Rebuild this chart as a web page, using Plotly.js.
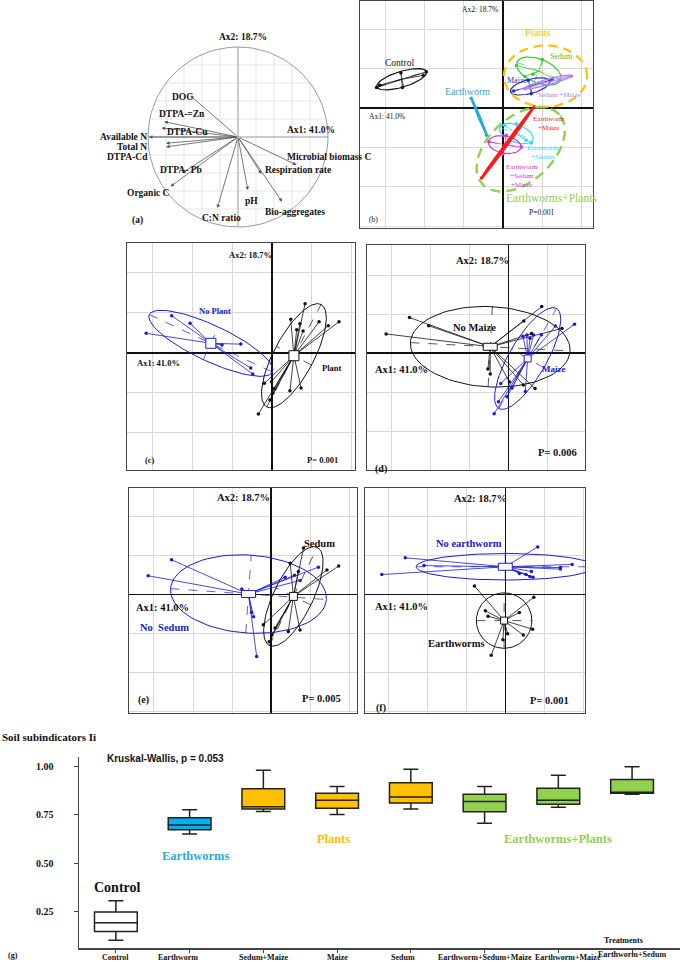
<!DOCTYPE html>
<html>
<head>
<meta charset="utf-8">
<script src="https://cdn.plot.ly/plotly-3.0.1.min.js"></script>
<style>
  html, body { margin: 0; padding: 0; background: #fff; }
  #chart { width: 685px; height: 962px; }
</style>
</head>
<body>
<div id="chart"></div>
<script>
// (a) correlation circle: variable loadings on Ax1 / Ax2
var varNames = ['DOC', 'DTPA-=Zn', 'DTPA-Cu', 'Available N', 'Total N', 'DTPA-Cd', 'DTPA- Pb',
  'Organic C', 'C:N ratio', 'pH', 'Bio-aggregates', 'Respiration rate', 'Microbial biomass C'];
var varAx1 = [-0.53, -0.82, -0.85, -0.99, -0.80, -0.80, -0.62, -0.75, -0.23, 0.11, 0.49, 0.26, 0.65];
var varAx2 = [0.46, 0.17, 0.10, 0.00, -0.07, -0.11, -0.40, -0.55, -0.79, -0.59, -0.72, -0.41, -0.31];

// (b) treatment groups: sample scores + ellipse [cx, cy, a, b, angle]
var bControlX = [-3.22, -1.95, -2.60, -2.56, -3.14, -2.03];
var bControlY = [0.52, 0.92, 0.89, 0.52, 0.58, 0.83];
var bControlEll = [-2.58, 0.73, 0.66, 0.20, 17];
var bSedumX = [0.34, 1.00, 1.27, 0.76, 0.55];
var bSedumY = [1.08, 1.23, 0.75, 0.86, 0.80];
var bSedumEll = [0.91, 0.94, 0.60, 0.30, -22];
var bMaizeX = [0.27, 1.23, 0.64, 0.72];
var bMaizeY = [0.43, 0.72, 0.70, 0.36];
var bMaizeEll = [0.69, 0.55, 0.52, 0.18, 15];
var bSedMaiX = [0.55, 1.74, 1.44];
var bSedMaiY = [0.49, 0.81, 0.72];
var bSedMaiEll = [1.14, 0.66, 0.62, 0.07, 15];
var bEwX = [-0.81, -0.42];
var bEwY = [0.25, -0.69];
var bEwEll = [-0.61, -0.22, 0.51, 0.02, -67.5];
var bEwMaiX = [-0.55, 0.79, 0.30];
var bEwMaiY = [-1.78, 0.03, -0.62];
var bEwMaiEll = [0.12, -0.88, 1.13, 0.03, 53.5];
var bEwSedX = [0.04, 0.72, 0.34, 0.59];
var bEwSedY = [-0.44, -0.89, -0.40, -0.82];
var bEwSedEll = [0.34, -0.65, 0.45, 0.22, -20];
var bEwSedMaiX = [-0.36, 0.47, 0.08, 0.00];
var bEwSedMaiY = [-0.86, -0.99, -0.69, -1.17];
var bEwSedMaiEll = [0.04, -0.93, 0.42, 0.22, -10];
var bPlantsEll = [1.08, 0.81, 1.06, 0.78, 0];
var bEwPlantsEll = [0.45, -1.05, 1.32, 0.82, 42];

// (c) plant / no plant
var cNoPlantX = [-3.15, -2.51, -2.05, -0.78, -0.53, -0.48, -1.25];
var cNoPlantY = [0.49, 0.93, 0.74, 0.22, -0.38, -0.53, 0.20];
var cNoPlantEll = [-1.53, 0.24, 1.70, 0.45, -25];
var cPlantX = [0.83, 0.47, 0.70, 0.62, 0.78, 1.18, 1.41, 1.68, -0.19, -0.01, 0.02, -0.05, -0.34, 0.45, 0.73, 0.05];
var cPlantY = [1.23, 0.84, 0.73, 0.58, 0.55, 0.78, 0.68, 0.78, -0.76, -0.72, -1.01, -1.18, -1.53, -0.95, -0.88, -0.90];
var cPlantEll = [0.55, -0.07, 1.45, 0.50, 62];

// (d) maize / no maize
var dNoMaizeX = [-3.13, -2.53, -2.04, 0.86, 0.40, 1.38, -0.52, -0.46, 0.03, 0.39, 0.69, 0.60];
var dNoMaizeY = [0.49, 0.91, 0.70, 1.19, 0.82, 0.63, -0.41, -0.54, -0.74, -0.82, -0.91, 0.50];
var dNoMaizeEll = [-0.46, 0.16, 2.05, 1.03, -3];
var dMaizeX = [1.70, 1.21, 0.65, 0.56, 0.48, 0.38, 0.85, -0.36, -0.19, -0.03, 0.44, 0.10, -0.25];
var dMaizeY = [0.74, 0.69, 0.46, 0.38, 0.46, 0.43, 0.47, -1.56, -0.78, -1.12, -0.99, -0.90, -1.25];
var dMaizeEll = [0.50, -0.14, 1.48, 0.48, 60];

// (e) sedum / no sedum
var eNoSedumX = [-3.15, -2.55, -0.75, -0.45, -0.37, 0.36, 0.74, 1.21, 0.60, -0.50];
var eNoSedumY = [0.49, 0.90, 0.15, -0.56, -1.58, 0.45, 0.37, 0.71, 0.50, -0.45];
var eNoSedumEll = [-0.58, 0.02, 2.00, 1.00, -4];
var eSedumX = [0.83, 0.49, 1.43, 1.73, 0.70, -0.20, 0.02, -0.05, 0.44, 0.74, 0.10];
var eSedumY = [1.20, 0.81, 0.64, 0.74, 0.60, -0.77, -1.03, -1.20, -0.94, -0.90, -0.85];
var eSedumEll = [0.57, -0.04, 1.40, 0.50, 64];

// (f) earthworm / no earthworm
var fNoEwX = [-3.17, -2.57, -2.09, 0.82, 1.40, 1.70, 0.66, 0.62, 0.52, 0.35, 0.70, 1.40];
var fNoEwY = [0.52, 0.95, 0.75, 1.23, 0.66, 0.78, 0.60, 0.47, 0.52, 0.55, 0.45, 0.70];
var fNoEwEll = [-0.01, 0.72, 2.28, 0.34, 0];
var fEwX = [-0.80, 0.72, -0.52, -0.37, 0.69, 0.45, -0.07, 0.35, -0.45, 0.05];
var fEwY = [0.23, -0.06, -0.41, -1.55, -0.88, -1.03, -1.15, -0.45, -0.55, -1.00];
var fEwEll = [-0.04, -0.66, 0.71, 0.71, 0];

// (g) soil subindicator Ii by treatment
var treatments = ['Control', 'Earthworm', 'Sedum+Maize', 'Maize', 'Sedum',
  'Earthworm+Sedum+Maize', 'Earthworm+Maize', 'Earthworm+Sedum'];
var iiLow = [0.100, 0.651, 0.768, 0.752, 0.780, 0.707, 0.790, 0.857];
var iiQ1 = [0.145, 0.673, 0.780, 0.785, 0.812, 0.766, 0.805, 0.862];
var iiMedian = [0.191, 0.697, 0.792, 0.826, 0.843, 0.819, 0.826, 0.866];
var iiQ3 = [0.246, 0.735, 0.886, 0.862, 0.916, 0.857, 0.888, 0.933];
var iiHigh = [0.305, 0.776, 0.981, 0.897, 0.986, 0.897, 0.955, 1.000];
var boxColors = ['#ffffff', '#00b0f0', '#ffc000', '#ffc000', '#ffc000', '#92d050', '#92d050', '#92d050'];

var W = 685, H = 962;
var SERIF = 'Liberation Serif, Times New Roman, serif';
var BLUE = '#1a1ad6';
var BLACK = '#111111';

function domX(p0, p1) { return [p0 / W, p1 / W]; }
function domY(p0, p1) { return [1 - p1 / H, 1 - p0 / H]; }

var data = [];
var shapes = [];
var annotations = [];

function txt(s, x, y, size, color, anchor, font) {
  annotations.push({
    text: s, xref: 'paper', yref: 'paper', x: x / W, y: 1 - y / H,
    xanchor: anchor || 'left', yanchor: 'middle', showarrow: false,
    font: {family: font || SERIF, size: size, color: color || '#111'}
  });
}

function ellipse(ell) {
  var t = ell[4] * Math.PI / 180, xs = [], ys = [];
  for (var i = 0; i <= 90; i++) {
    var s = i / 90 * 2 * Math.PI;
    xs.push(ell[0] + ell[2] * Math.cos(s) * Math.cos(t) - ell[3] * Math.sin(s) * Math.sin(t));
    ys.push(ell[1] + ell[2] * Math.cos(s) * Math.sin(t) + ell[3] * Math.sin(s) * Math.cos(t));
  }
  return {x: xs, y: ys};
}

function addGroup(p, xs, ys, ell, color, st) {
  st = st || {};
  var cx = ell[0], cy = ell[1];
  if (xs) {
    var sx = [], sy = [];
    for (var i = 0; i < xs.length; i++) { sx.push(cx, xs[i], null); sy.push(cy, ys[i], null); }
    data.push({type: 'scatter', mode: 'lines', x: sx, y: sy, xaxis: p.xa, yaxis: p.ya,
      line: {color: color, width: st.starW || 0.8}, hoverinfo: 'skip'});
    data.push({type: 'scatter', mode: 'markers', x: xs, y: ys, xaxis: p.xa, yaxis: p.ya,
      marker: {color: color, size: st.ms || 3.5}, hoverinfo: 'skip'});
  }
  var e = ellipse(ell);
  data.push({type: 'scatter', mode: 'lines', x: e.x, y: e.y, xaxis: p.xa, yaxis: p.ya,
    line: {color: color, width: st.ellW || 1, dash: st.dash || 'solid'}, hoverinfo: 'skip'});
  if (!st.noAxes) {
    var t = ell[4] * Math.PI / 180, c = Math.cos(t), s = Math.sin(t);
    data.push({type: 'scatter', mode: 'lines', xaxis: p.xa, yaxis: p.ya, hoverinfo: 'skip',
      x: [cx - ell[2] * c, cx + ell[2] * c, null, cx + ell[3] * s, cx - ell[3] * s],
      y: [cy - ell[2] * s, cy + ell[2] * s, null, cy - ell[3] * c, cy + ell[3] * c],
      line: {color: color, width: 0.7, dash: 'dash'}});
  }
  if (st.box) {
    var unit = (p.xpx[1] - p.xpx[0]) / (p.xr[1] - p.xr[0]);
    shapes.push({type: 'rect', xref: p.xa, yref: p.ya, layer: 'above',
      x0: cx - st.box[0] / 2 / unit, x1: cx + st.box[0] / 2 / unit,
      y0: cy - st.box[1] / 2 / unit, y1: cy + st.box[1] / 2 / unit,
      fillcolor: '#ffffff', line: {color: color, width: 1}});
  }
}

// panel geometry (pixel boxes and unit ranges)
var panels = {
  b: {xa: 'x2', ya: 'y2', xpx: [360, 593], ypx: [1, 228], xr: [-3.64, 2.29], yr: [-3.05, 2.72]},
  c: {xa: 'x3', ya: 'y3', xpx: [127, 355], ypx: [243, 470], xr: [-3.63, 2.08], yr: [-2.93, 2.75]},
  d: {xa: 'x4', ya: 'y4', xpx: [367, 585], ypx: [245, 470], xr: [-3.62, 1.97], yr: [-3.00, 2.77]},
  e: {xa: 'x5', ya: 'y5', xpx: [129, 357], ypx: [488, 713], xr: [-3.64, 2.20], yr: [-3.03, 2.74]},
  f: {xa: 'x6', ya: 'y6', xpx: [365, 585], ypx: [488, 713], xr: [-3.60, 2.03], yr: [-3.03, 2.74]}
};

var layout = {
  width: W, height: H,
  margin: {l: 0, r: 0, t: 0, b: 0},
  paper_bgcolor: '#ffffff', plot_bgcolor: '#ffffff',
  showlegend: false, boxmode: 'overlay',
  font: {family: SERIF, color: '#111'}
};

// ---------- panel (a) ----------
layout.xaxis = {domain: domX(139, 337), range: [-1.1, 1.1], visible: false, anchor: 'y'};
layout.yaxis = {domain: domY(38, 236), range: [-1.1, 1.1], visible: false, anchor: 'x'};
var gx = [], gy = [];
for (var k = -4; k <= 4; k++) {
  if (k === 0) continue;
  var v = k * 0.2, h = Math.sqrt(1 - v * v);
  gx.push(v, v, null, -h, h, null);
  gy.push(-h, h, null, v, v, null);
}
data.push({type: 'scatter', mode: 'lines', x: gx, y: gy, line: {color: '#dedede', width: 0.8}, hoverinfo: 'skip'});
data.push({type: 'scatter', mode: 'lines', x: [-1, 1, null, 0, 0], y: [0, 0, null, -1, 1],
  line: {color: '#8a8a8a', width: 0.9}, hoverinfo: 'skip'});
var circ = ellipse([0, 0, 1, 1, 0]);
data.push({type: 'scatter', mode: 'lines', x: circ.x, y: circ.y, line: {color: '#9a9a9a', width: 1}, hoverinfo: 'skip'});
for (var i = 0; i < varNames.length; i++) {
  annotations.push({x: varAx1[i], y: varAx2[i], xref: 'x', yref: 'y', ax: 0, ay: 0, axref: 'x', ayref: 'y',
    text: '', showarrow: true, arrowhead: 2, arrowsize: 0.9, arrowwidth: 0.8, arrowcolor: '#555'});
}
var aFont = 9.5;
txt('<b>Ax2: 18.7%</b>', 217, 37, aFont);
txt('<b>Ax1: 41.0%</b>', 285, 130, aFont);
txt('<b>DOC</b>', 170, 97, aFont);
txt('<b>DTPA-=Zn</b>', 157, 114, aFont);
txt('<b>Available N</b>', 149, 137, aFont, '#111', 'right');
txt('<b>DTPA-Cu</b>', 165, 132, aFont);
txt('<b>Total N</b>', 149, 147, aFont, '#111', 'right');
txt('<b>DTPA-Cd</b>', 150, 157, aFont, '#111', 'right');
txt('<b>DTPA- Pb</b>', 158, 170, aFont);
txt('<b>Microbial biomass C</b>', 285, 157, aFont);
txt('<b>Respiration rate</b>', 263, 170, aFont);
txt('<b>Organic C</b>', 125, 193, aFont);
txt('<b>pH</b>', 243, 201, aFont);
txt('<b>Bio-aggregates</b>', 263, 212, aFont);
txt('<b>C:N ratio</b>', 200, 218, aFont);
txt('<b>(a)</b>', 130, 220, aFont);

// ---------- ordination panel axes ----------
Object.keys(panels).forEach(function (key) {
  var p = panels[key];
  var n = p.xa.slice(1);
  var common = {showline: true, mirror: true, linecolor: '#444', linewidth: 1,
    showgrid: true, gridcolor: '#d9d9d9', gridwidth: 1, dtick: 1, tick0: 0,
    zeroline: true, zerolinecolor: '#111', zerolinewidth: 1.3,
    showticklabels: false, ticks: '', fixedrange: true};
  layout['xaxis' + n] = Object.assign({domain: domX(p.xpx[0], p.xpx[1]), range: p.xr, anchor: p.ya}, common);
  layout['yaxis' + n] = Object.assign({domain: domY(p.ypx[0], p.ypx[1]), range: p.yr, anchor: p.xa}, common);
});

// ---------- panel (b) ----------
var pb = panels.b;
addGroup(pb, bControlX, bControlY, bControlEll, BLACK, {ellW: 1.2});
addGroup(pb, bSedumX, bSedumY, bSedumEll, '#33cc33', {ellW: 1.2});
addGroup(pb, bMaizeX, bMaizeY, bMaizeEll, '#2e2eb8', {ellW: 1.2});
addGroup(pb, bSedMaiX, bSedMaiY, bSedMaiEll, '#b084f5', {ellW: 1.5});
addGroup(pb, bEwX, bEwY, bEwEll, '#29abe2', {ellW: 2, starW: 2});
addGroup(pb, bEwSedX, bEwSedY, bEwSedEll, '#2fdcf0', {ellW: 1.2});
addGroup(pb, bEwSedMaiX, bEwSedMaiY, bEwSedMaiEll, '#dd33dd', {ellW: 1.2});
addGroup(pb, bEwMaiX, bEwMaiY, bEwMaiEll, '#ff1a1a', {ellW: 2.2, starW: 1.5});
addGroup(pb, null, null, bPlantsEll, '#ffc000', {ellW: 2.2, dash: '9px,6px', noAxes: true});
addGroup(pb, null, null, bEwPlantsEll, '#92d050', {ellW: 2.4, dash: '10px,6px', noAxes: true});
txt('Ax2: 18.7%', 480, 10, 7.5, '#111', 'center');
txt('Ax1: 41.0%', 367, 116, 7.5);
txt('Control', 383, 63, 9.5);
txt('Plants', 523, 32, 10.5, '#ffc000');
txt('Sedum', 548, 57, 8, '#33cc33');
txt('Maize', 505, 80, 8, '#2e2eb8');
txt('Sedum +Maize', 536, 95, 7, '#b084f5');
txt('Earthworm', 443, 91, 10, '#29abe2');
txt('Earthworm<br>+Maize', 531, 123, 7, '#ff1a1a');
txt('Earthworm<br>+Sedum', 525, 153, 7, '#2fdcf0');
txt('Earthworm<br>+Sedum<br>+Maize', 504, 176, 7, '#dd33dd');
txt('Earthworms+Plants', 504, 198, 11.5, '#92d050');
txt('P=0.001', 527, 213, 7.5);
txt('(b)', 367, 219, 7.5);

// ---------- panel (c) ----------
var pc = panels.c;
addGroup(pc, cNoPlantX, cNoPlantY, cNoPlantEll, BLUE, {box: [10, 10]});
addGroup(pc, cPlantX, cPlantY, cPlantEll, BLACK, {box: [10, 10]});
txt('<b>Ax2: 18.7%</b>', 250, 255, 8.5, '#111', 'center');
txt('<b>No Plant</b>', 215, 311, 8.5, BLUE, 'center');
txt('<b>Ax1: 41.0%</b>', 135, 363, 8.5);
txt('<b>Plant</b>', 320, 368, 8.5);
txt('<b>(c)</b>', 143, 460, 8.5);
txt('<b>P= 0.001</b>', 305, 460, 8.5);

// ---------- panel (d) ----------
var pd = panels.d;
addGroup(pd, dNoMaizeX, dNoMaizeY, dNoMaizeEll, BLACK, {box: [14, 7]});
addGroup(pd, dMaizeX, dMaizeY, dMaizeEll, BLUE, {box: [7, 7]});
txt('<b>Ax2: 18.7%</b>', 454, 260, 10.5);
txt('<b>No Maize</b>', 451, 327, 10.5);
txt('<b>Ax1: 41.0%</b>', 373, 369, 10.5);
txt('<b>Maize</b>', 540, 369, 9, BLUE);
txt('<b>P= 0.006</b>', 536, 452, 10.5);
txt('<b>(d)</b>', 373, 469, 10);

// ---------- panel (e) ----------
var pe = panels.e;
addGroup(pe, eNoSedumX, eNoSedumY, eNoSedumEll, BLUE, {box: [14, 7]});
addGroup(pe, eSedumX, eSedumY, eSedumEll, BLACK, {box: [8, 8]});
txt('<b>Ax2: 18.7%</b>', 215, 497, 10.5);
txt('<b>Sedum</b>', 302, 543, 10.5);
txt('<b>Ax1: 41.0%</b>', 134, 607, 10.5);
txt('<b>No  Sedum</b>', 138, 627, 10.5, BLUE);
txt('<b>(e)</b>', 136, 700, 10);
txt('<b>P= 0.005</b>', 300, 698, 10.5);

// ---------- panel (f) ----------
var pf = panels.f;
addGroup(pf, fNoEwX, fNoEwY, fNoEwEll, BLUE, {box: [14, 7]});
addGroup(pf, fEwX, fEwY, fEwEll, BLACK, {box: [7, 7]});
txt('<b>Ax2: 18.7%</b>', 452, 498, 10.5);
txt('<b>No earthworm</b>', 434, 543, 10.5, BLUE);
txt('<b>Ax1: 41.0%</b>', 373, 606, 10.5);
txt('<b>Earthworms</b>', 426, 643, 10.5);
txt('<b>(f)</b>', 374, 708, 10);
txt('<b>P= 0.001</b>', 528, 700, 10.5);

// ---------- panel (g): box plot ----------
layout.xaxis7 = {domain: domX(79, 680), range: [-0.5, 7.65], type: 'category', anchor: 'y7',
  showline: true, linecolor: '#444', linewidth: 1.5, ticks: 'outside', ticklen: 3, tickcolor: '#444',
  showgrid: false, zeroline: false, showticklabels: false};
layout.yaxis7 = {domain: domY(757, 948), range: [0.06, 1.05], anchor: 'x7',
  showline: true, linecolor: '#444', linewidth: 1.5, ticks: 'outside', ticklen: 4, tickcolor: '#444',
  showgrid: false, zeroline: false, tickvals: [0.25, 0.5, 0.75, 1.0], tickformat: '.2f',
  ticklabelstandoff: 18,
  tickfont: {family: SERIF, size: 10, color: '#111', weight: 'bold'}};

var seen = [];
boxColors.forEach(function (col) {
  if (seen.indexOf(col) >= 0) return;
  seen.push(col);
  var idx = [];
  boxColors.forEach(function (c, j) { if (c === col) idx.push(j); });
  function pick(arr) { return idx.map(function (j) { return arr[j]; }); }
  data.push({type: 'box', xaxis: 'x7', yaxis: 'y7',
    x: pick(treatments), q1: pick(iiQ1), median: pick(iiMedian), q3: pick(iiQ3),
    lowerfence: pick(iiLow), upperfence: pick(iiHigh),
    fillcolor: col, line: {color: '#222', width: 1.5},
    width: 0.58, whiskerwidth: 0.35, boxpoints: false, hoverinfo: 'skip'});
});

// category labels under the x axis (placed on the category positions)
var labelShift = [0, -12, 0, 0, -8, 0, 10, 0];
var labelLift = [0, 0, 0, 0, 0, 0, 0, 3];
treatments.forEach(function (t, j) {
  annotations.push({text: '<b>' + t + '</b>', xref: 'x7', yref: 'paper', x: t,
    y: 1 - (957 - labelLift[j]) / H, xshift: labelShift[j], xanchor: 'center', yanchor: 'middle',
    showarrow: false, font: {family: SERIF, size: 8, color: '#111'}});
});

txt('<b>Soil subindicators Ii</b>', 0, 737, 11);
txt('<b>Kruskal-Wallis, p = 0.053</b>', 105, 758, 10, '#111', 'left', 'Liberation Sans, Arial, sans-serif');
txt('<b>Control</b>', 92, 887, 14);
txt('<b>Earthworms</b>', 160, 856, 12.5, '#29abe2');
txt('<b>Plants</b>', 315, 839, 12.5, '#ffc000');
txt('<b>Earthworms+Plants</b>', 502, 839, 12.5, '#92d050');
txt('<b>Treatments</b>', 602, 940, 8);
txt('<b>(g)</b>', 6, 955, 8);

layout.shapes = shapes;
layout.annotations = annotations;

Plotly.newPlot('chart', data, layout, {staticPlot: true});
</script>
</body>
</html>
